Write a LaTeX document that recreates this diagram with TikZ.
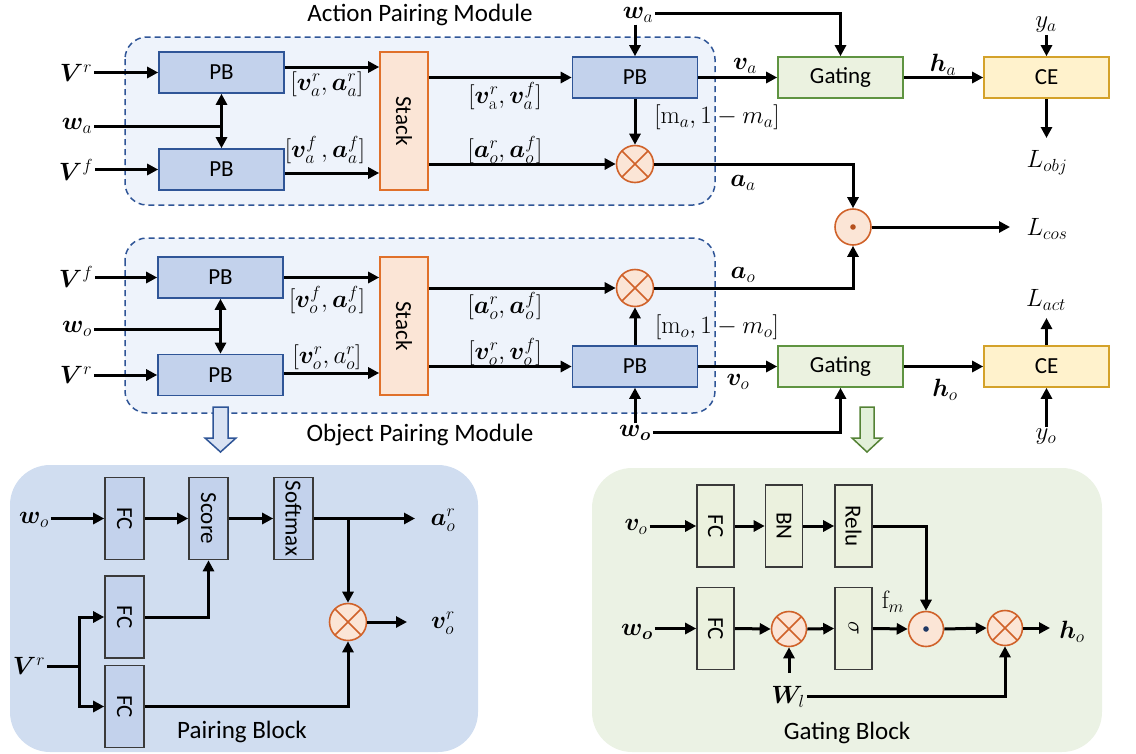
\RequirePackage{fix-cm}
\documentclass[tikz,border=0pt]{standalone}
\usepackage{bm}
\usepackage{graphicx}
\usepackage[no-math]{fontspec}
\setmainfont{Carlito}
\usetikzlibrary{arrows.meta,calc}
\definecolor{pbF}{HTML}{C3D2EC}
\definecolor{pbB}{HTML}{2F5597}
\definecolor{modF}{HTML}{EEF3FB}
\definecolor{modB}{HTML}{2F5597}
\definecolor{stF}{HTML}{FBE5D6}
\definecolor{stB}{HTML}{E0702A}
\definecolor{oxB}{HTML}{D0622A}
\definecolor{gtF}{HTML}{EBF2E0}
\definecolor{gtB}{HTML}{5F9441}
\definecolor{ceF}{HTML}{FFF2CC}
\definecolor{ceB}{HTML}{D4A22A}
\definecolor{panB}{HTML}{D0DDF0}
\definecolor{panG}{HTML}{EBF2E4}
\definecolor{fcBF}{HTML}{C3D2EC}
\definecolor{fcGF}{HTML}{EBF1DE}
\definecolor{fcK}{HTML}{3A3A3A}
\definecolor{hbF}{HTML}{DAE3F3}
\definecolor{hgF}{HTML}{E2F0D9}
\definecolor{hgB}{HTML}{548235}
\definecolor{dotA}{HTML}{B5501E}
\definecolor{dotB}{HTML}{1F3864}
\newcommand{\boxfont}{\fontsize{23}{27}\selectfont}
\newcommand{\titfont}{\fontsize{25}{29}\selectfont}
\newcommand{\mfont}{\fontsize{25}{29}\selectfont}
\begin{document}
\begin{tikzpicture}[x=1pt,y=-1pt,
  every node/.style={inner sep=0pt},
  box/.style={draw, line width=1.6pt, font=\boxfont},
  pbbox/.style={box, draw=pbB, fill=pbF, minimum width=125pt, minimum height=41pt},
  stackbox/.style={box, draw=stB, fill=stF, minimum width=48pt, minimum height=138pt},
  gatebox/.style={box, draw=gtB, fill=gtF, minimum width=125pt, minimum height=41pt},
  cebox/.style={box, draw=ceB, fill=ceF, minimum width=125pt, minimum height=41pt},
  fcB/.style={box, draw=fcK, fill=fcBF, minimum width=39pt, minimum height=82pt},
  fcG/.style={box, draw=fcK, fill=fcGF, minimum width=37pt, minimum height=82pt},
  otimes/.style={circle, draw=oxB, fill=stF, line width=1.6pt, minimum size=37pt,
    path picture={\draw[oxB, line width=1.6pt]
      (path picture bounding box.north west) -- (path picture bounding box.south east)
      (path picture bounding box.north east) -- (path picture bounding box.south west);}},
  odot/.style={circle, draw=oxB, fill=stF, line width=1.6pt, minimum size=36pt,
    path picture={\fill[#1] (path picture bounding box.center) circle (2.8pt);}},
  lbl/.style={inner sep=2pt, font=\mfont},
  title/.style={font=\titfont},
  modbox/.style={draw=modB, fill=modF, line width=1.5pt, dash pattern=on 6pt off 4pt, rounded corners=22pt},
  ln/.style={line width=3pt},
  arr/.style={line width=3pt, -{Triangle[length=11pt,width=11pt]}},
  dbl/.style={line width=3pt, {Triangle[length=11pt,width=11pt]}-{Triangle[length=11pt,width=11pt]}},
]
\useasboundingbox (0,0) rectangle (1136,753);

% ================= Action Pairing Module =================
\draw[modbox] (125,37) rectangle (715,205);
\node[title] (tA) at (420,15) {Action Pairing Module};
\node[pbbox] (pb1) at (221.5,72.5) {PB};
\node[pbbox] (pb2) at (221.5,169.5) {PB};
\node[stackbox] (st1) at (404,121) {\rotatebox{-90}{Stack}};
\node[pbbox] (pb3) at (635,77.5) {PB};
\node[otimes] (ox1) at (635,164) {};
\node[gatebox] (gt1) at (840.5,77.5) {Gating};
\node[cebox] (ce1) at (1046.5,77.5) {CE};
\node[odot=dotA] (od1) at (853,227) {};

\node[lbl] (Vr1) at (76,73) {$\bm V^r$};
\node[lbl] (wa1) at (77,126) {$\bm w_a$};
\node[lbl] (Vf1) at (76,170) {$\bm V^f$};
\node[lbl] (l1) at (327,84) {$[\bm v^r_a,\bm a^r_a]$};
\node[lbl] (l2) at (325,150) {$[\bm v^f_a\,,\bm a^f_a]$};
\node[lbl] (l3) at (505,96) {$[\bm v^r_{\mathrm a},\bm v^f_a]$};
\node[lbl] (l4) at (505,150) {$[\bm a^r_o,\bm a^f_o]$};
\node[lbl] (l5) at (717,117) {$[\mathrm m_a,1-m_a]$};
\node[lbl] (wa2) at (638,15) {$\bm w_a$};
\node[lbl] (va) at (745,66) {$\bm v_a$};
\node[lbl] (ha) at (943,65) {$\bm h_a$};
\node[lbl] (ya) at (1046,25) {$y_a$};
\node[lbl] (lobj) at (1047,163) {$L_{obj}$};
\node[lbl] (aa) at (743,183) {$\bm a_a$};
\node[lbl] (lcos) at (1047,229) {$L_{cos}$};

\draw[arr] (Vr1.east |- pb1.west) -- (pb1.west);
\coordinate (ja) at (221.5,126);
\draw[ln] (wa1.east |- ja) -- (ja);
\draw[dbl] (pb1.south) -- (pb2.north);
\draw[arr] (Vf1.east |- pb2.west) -- (pb2.west);
\coordinate (s1a) at ([yshift=5.5pt]pb1.east);
\draw[arr] (s1a) -- (s1a -| st1.west);
\coordinate (s1b) at ([yshift=-3.5pt]pb2.east);
\draw[arr] (s1b) -- (s1b -| st1.west);
\draw[arr] (st1.east |- pb3.west) -- (pb3.west);
\draw[arr] (st1.east |- ox1.west) -- (ox1.west);
\draw[arr] (pb3.south) -- (ox1.north);
\draw[arr] (pb3.north |- wa2.south) -- (pb3.north);
\coordinate (wg) at (840.5,13);
\draw[arr] (wa2.east |- wg) -- (wg) -- (gt1.north);
\draw[arr] (pb3.east) -- (gt1.west);
\draw[arr] (gt1.east) -- (ce1.west);
\draw[arr] (ya.south -| ce1.north) -- (ce1.north);
\coordinate (lo) at (1046.5,138);
\draw[arr] (ce1.south) -- (lo);
\coordinate (ca) at (853,164);
\draw[arr] (ox1.east) -- (ca) -- (od1.north);
\coordinate (lc) at (1010,227);
\draw[arr] (od1.east) -- (lc);

% ================= Object Pairing Module =================
\draw[modbox] (125,238) rectangle (715,413);
\node[title] (tO) at (420,435) {Object Pairing Module};
\node[pbbox] (pb4) at (220.5,277.5) {PB};
\node[pbbox] (pb5) at (220.5,375) {PB};
\node[stackbox] (st2) at (404,326) {\rotatebox{-90}{Stack}};
\node[otimes] (ox2) at (635,288) {};
\node[pbbox] (pb6) at (635,366.5) {PB};
\node[gatebox] (gt2) at (840.5,366.5) {Gating};
\node[cebox] (ce2) at (1046.5,366.5) {CE};

\node[lbl] (Vf2) at (76,277) {$\bm V^f$};
\node[lbl] (wo1) at (77,329) {$\bm w_o$};
\node[lbl] (Vr2) at (76,375) {$\bm V^r$};
\node[lbl] (l6) at (327,300) {$[\bm v^f_o,\bm a^f_o]$};
\node[lbl] (l7) at (327,357) {$[\bm v^r_o,a^r_o]$};
\node[lbl] (l8) at (505,306) {$[\bm a^r_o,\bm a^f_o]$};
\node[lbl] (l9) at (505,352) {$[\bm v^r_o,\bm v^f_o]$};
\node[lbl] (l10) at (717,327) {$[\mathrm m_o,1-m_o]$};
\node[lbl] (wo2) at (635,433) {$\bm{w_o}$};
\node[lbl] (vo) at (738,382) {$\bm v_o$};
\node[lbl] (ao) at (743,275) {$\bm a_o$};
\node[lbl] (ho) at (945,390) {$\bm h_o$};
\node[lbl] (lact) at (1046,300) {$L_{act}$};
\node[lbl] (yo) at (1046,437) {$y_o$};

\draw[arr] (Vf2.east |- pb4.west) -- (pb4.west);
\coordinate (jo) at (220.5,329);
\draw[ln] (wo1.east |- jo) -- (jo);
\draw[dbl] (pb4.south) -- (pb5.north);
\draw[arr] (Vr2.east |- pb5.west) -- (pb5.west);
\draw[arr] (pb4.east) -- (pb4.east -| st2.west);
\coordinate (s2b) at ([yshift=2pt]pb5.east);
\draw[arr] (s2b) -- (s2b -| st2.west);
\draw[arr] (st2.east |- ox2.west) -- (ox2.west);
\draw[arr] (st2.east |- pb6.west) -- (pb6.west);
\draw[arr] (pb6.north) -- (ox2.south);
\draw[arr] (pb6.south |- wo2.north) -- (pb6.south);
\coordinate (wg2) at (840.5,432);
\draw[arr] (wo2.east |- wg2) -- (wg2) -- (gt2.south);
\draw[arr] (pb6.east) -- (gt2.west);
\draw[arr] (gt2.east) -- (ce2.west);
\coordinate (cb) at (853,288);
\draw[arr] (ox2.east) -- (cb) -- (od1.south);
\coordinate (la) at (1046.5,318);
\draw[arr] (ce2.north) -- (la);
\draw[arr] (yo.north -| ce2.south) -- (ce2.south);

% hollow arrows
\fill[white] (197,414) rectangle (244,464);
\draw[line width=1.5pt, draw=pbB, fill=hbF] (213,407) -- (228,407) -- (228,438) -- (236,438) -- (220.5,452) -- (205,438) -- (213,438) -- cycle;
\draw[line width=1.5pt, draw=hgB, fill=hgF] (860,407) -- (874,407) -- (874,438) -- (882,438) -- (867,452) -- (852,438) -- (860,438) -- cycle;

% ================= Pairing Block =================
\draw[fill=panB, draw=none, rounded corners=40pt] (10,465) rectangle (478,752);
\node[fcB] (fc1) at (124.5,518.5) {\rotatebox{-90}{FC}};
\node[fcB] (sc) at (208.5,518.5) {\rotatebox{-90}{Score}};
\node[fcB] (sm) at (293.5,518.5) {\rotatebox{-90}{Softmax}};
\node[fcB] (fc2) at (124.5,617) {\rotatebox{-90}{FC}};
\node[fcB] (fc3) at (124.5,706.5) {\rotatebox{-90}{FC}};
\node[otimes] (ox3) at (348,622) {};
\node[lbl] (wo3) at (34,520) {$\bm w_o$};
\node[lbl] (Vr3) at (29,666) {$\bm V^r$};
\node[lbl] (aor) at (443,520) {$\bm a^r_o$};
\node[lbl] (vor) at (443,623) {$\bm v^r_o$};
\node[title] (tP) at (242,732) {Pairing Block};

\draw[arr] (wo3.east |- fc1.west) -- (fc1.west);
\draw[arr] (fc1.east) -- (sc.west);
\draw[arr] (sc.east) -- (sm.west);
\coordinate (ae) at (415,518.5);
\draw[arr] (sm.east) -- (ae);
\coordinate (br) at (348,518.5);
\draw[arr] (br) -- (ox3.north);
\coordinate (ve) at (407,622);
\draw[arr] (ox3.east) -- (ve);
\coordinate (vj) at (79,666);
\draw[ln] (Vr3.east |- vj) -- (vj);
\draw[arr] (vj) |- (fc2.west);
\draw[arr] (vj) |- (fc3.west);
\draw[arr] (fc2.east) -| (sc.south);
\draw[arr] (fc3.east) -| (ox3.south);

% ================= Gating Block =================
\draw[fill=panG, draw=none, rounded corners=40pt] (592,468) rectangle (1102,752);
\node[fcG] (gfc1) at (715.5,526) {\rotatebox{-90}{FC}};
\node[fcG] (gbn) at (784,526) {\rotatebox{-90}{BN}};
\node[fcG] (grl) at (853.5,526) {\rotatebox{-90}{Relu}};
\node[fcG] (gfc2) at (715.5,628.5) {\rotatebox{-90}{FC}};
\node[fcG] (gsg) at (853.5,628.5) {\rotatebox{-90}{$\sigma$}};
\node[otimes, minimum size=35pt] (ox4) at (789,629) {};
\node[odot=dotB, minimum size=35pt] (od2) at (926,629) {};
\node[otimes, minimum size=35pt] (ox5) at (1005,628) {};
\node[lbl] (vo2) at (636,527) {$\bm v_o$};
\node[lbl] (wo4) at (637,632) {$\bm{w_o}$};
\node[lbl] (Wl) at (788,697) {$\bm W_l$};
\node[lbl] (fm) at (893,602) {$\mathrm f_m$};
\node[lbl] (ho2) at (1072,632) {$\bm h_o$};
\node[title] (tG) at (847,733) {Gating Block};

\draw[arr] (vo2.east |- gfc1.west) -- (gfc1.west);
\draw[arr] (gfc1.east) -- (gbn.west);
\draw[arr] (gbn.east) -- (grl.west);
\draw[arr] (grl.east) -| (od2.north);
\draw[arr] (wo4.east |- gfc2.west) -- (gfc2.west);
\draw[arr] (gfc2.east) -- (ox4.west);
\draw[arr] (ox4.east) -- (gsg.west);
\draw[arr] (gsg.east) -- (od2.west);
\draw[arr] (od2.east) -- (ox5.west);
\coordinate (he) at (1050,628);
\draw[arr] (ox5.east) -- (he);
\coordinate (wlu) at (789,673);
\draw[arr] (wlu) -- (ox4.south);
\coordinate (wl2) at (1005,696);
\draw[arr] (Wl.east |- wl2) -- (wl2) -- (ox5.south);
\end{tikzpicture}
\end{document}
